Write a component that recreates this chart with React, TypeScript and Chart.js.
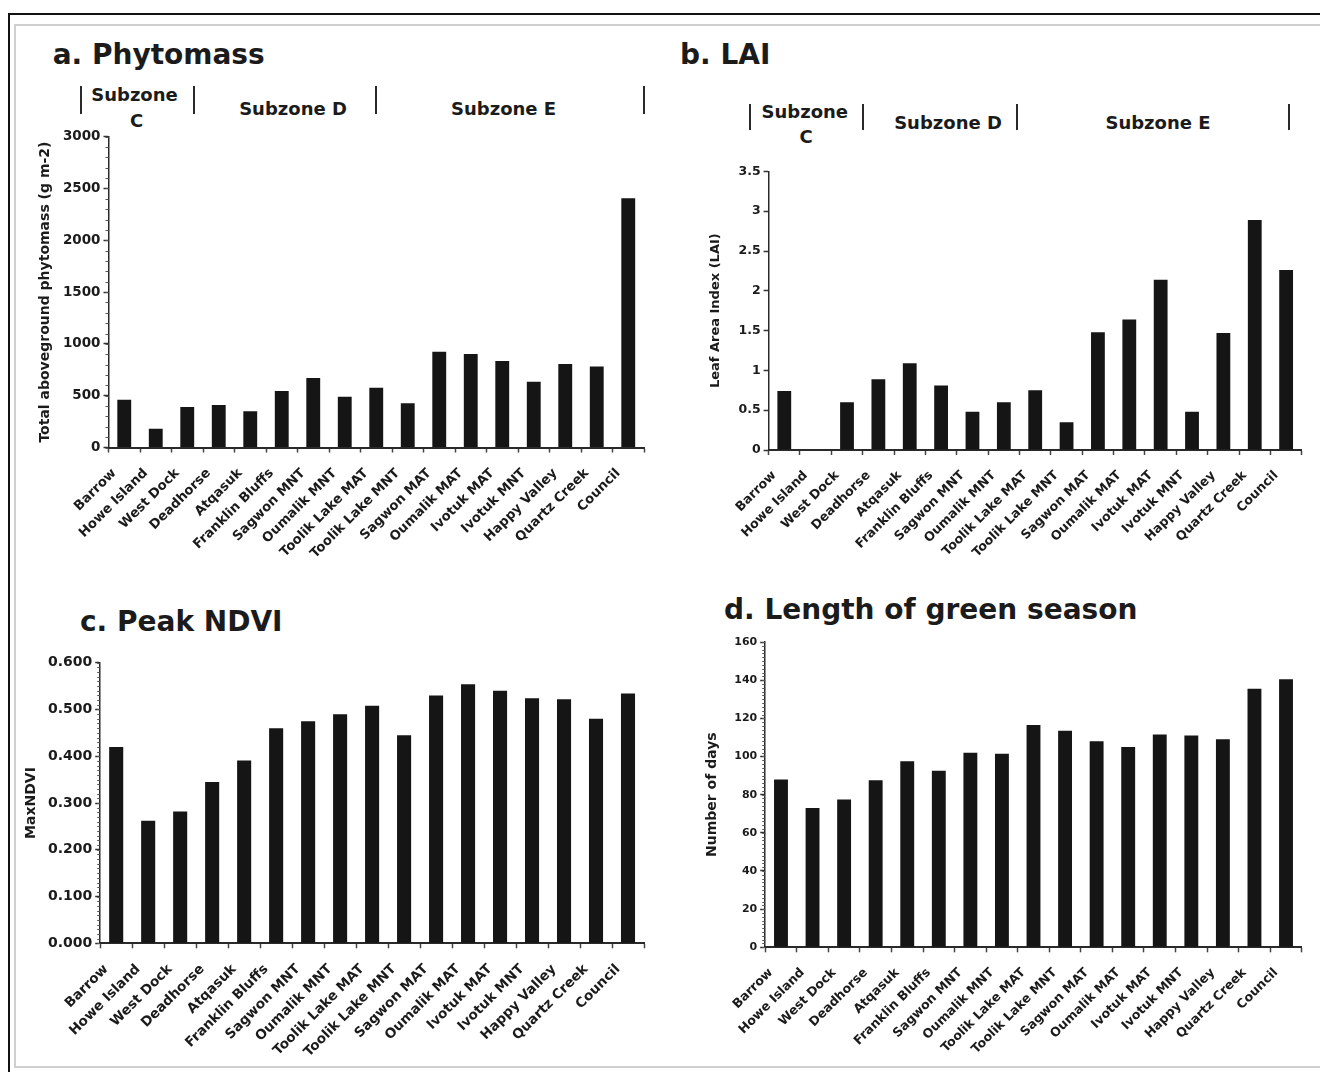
import React, { useEffect, useRef } from "react";
import { Chart, registerables } from "chart.js";

Chart.register(...registerables);

// ---------- data ----------
const sites: string[] = [
  "Barrow",
  "Howe Island",
  "West Dock",
  "Deadhorse",
  "Atqasuk",
  "Franklin Bluffs",
  "Sagwon MNT",
  "Oumalik MNT",
  "Toolik Lake MAT",
  "Toolik Lake MNT",
  "Sagwon MAT",
  "Oumalik MAT",
  "Ivotuk MAT",
  "Ivotuk MNT",
  "Happy Valley",
  "Quartz Creek",
  "Council",
];

const phytomass: number[] = [460, 180, 390, 410, 350, 545, 670, 490, 576, 428, 924, 903, 834, 634, 807, 783, 2407];
const lai: number[] = [0.74, 0, 0.6, 0.89, 1.09, 0.81, 0.48, 0.6, 0.75, 0.35, 1.48, 1.64, 2.14, 0.48, 1.47, 2.89, 2.26];
const peakNdvi: number[] = [0.42, 0.262, 0.282, 0.345, 0.391, 0.46, 0.475, 0.49, 0.508, 0.445, 0.53, 0.554, 0.54, 0.524, 0.522, 0.48, 0.534];
const greenDays: number[] = [88, 73, 77.5, 87.5, 97.5, 92.5, 102, 101.5, 116.5, 113.5, 108, 105, 111.5, 111, 109, 135.5, 140.5];

const titles: string[] = ["a. Phytomass", "b. LAI", "c. Peak NDVI", "d. Length of green season"];
const yTitles: string[] = ["Total aboveground phytomass (g m-2)", "Leaf Area Index (LAI)", "MaxNDVI", "Number of days"];
const subzoneLabels: string[] = ["Subzone", "C", "Subzone D", "Subzone E"];

// ---------- layout / style ----------
const FONT = "'DejaVu Sans', sans-serif";
const INK = "#1b1b1b";

type PanelSpec = {
  values: number[];
  yMax: number;
  yStep: number;
  fmt: (v: number) => string;
  yTitle: string;
  left: number;
  top: number;
  width: number;
  height: number;
  plotLeft: number;
  plotTop: number;
  plotRight: number;
  plotBottom: number;
  yTitleX: number;
  yTitleSize: number;
  tickSize: number;
  labelSize: number;
  minorStep: number;
};

const panels: PanelSpec[] = [
  {
    values: phytomass, yMax: 3000, yStep: 500, fmt: (v) => String(v), yTitle: yTitles[0],
    left: 20, top: 125, width: 640, height: 445,
    plotLeft: 108.5, plotTop: 136.7, plotRight: 644, plotBottom: 447.5,
    yTitleX: 45, yTitleSize: 14, tickSize: 13.5, labelSize: 13.2, minorStep: 100,
  },
  {
    values: lai, yMax: 3.5, yStep: 0.5, fmt: (v) => String(v), yTitle: yTitles[1],
    left: 680, top: 160, width: 640, height: 410,
    plotLeft: 768.6, plotTop: 171.4, plotRight: 1301.8, plotBottom: 450,
    yTitleX: 716, yTitleSize: 13, tickSize: 12.5, labelSize: 12.7, minorStep: 0,
  },
  {
    values: peakNdvi, yMax: 0.6, yStep: 0.1, fmt: (v) => v.toFixed(3), yTitle: yTitles[2],
    left: 20, top: 650, width: 640, height: 418,
    plotLeft: 100.2, plotTop: 662.7, plotRight: 644, plotBottom: 943.3,
    yTitleX: 31.6, yTitleSize: 14, tickSize: 14, labelSize: 13.6, minorStep: 0.01,
  },
  {
    values: greenDays, yMax: 160, yStep: 20, fmt: (v) => String(v), yTitle: yTitles[3],
    left: 680, top: 630, width: 640, height: 438,
    plotLeft: 765.2, plotTop: 642, plotRight: 1301.8, plotBottom: 947.3,
    yTitleX: 712.6, yTitleSize: 14, tickSize: 11, labelSize: 12.6, minorStep: 2,
  },
];

const minorTicks = {
  id: "minorTicks",
  afterDraw(chart: any, _args: any, opts: any) {
    const step = opts && opts.step;
    if (!step) return;
    const y = chart.scales.y;
    const ctx = chart.ctx;
    const n = Math.round(y.max / step);
    ctx.save();
    ctx.strokeStyle = "#555";
    ctx.lineWidth = 1;
    for (let i = 0; i <= n; i++) {
      const py = Math.round(y.getPixelForValue(i * step)) + 0.5;
      ctx.beginPath();
      ctx.moveTo(y.right - 3, py);
      ctx.lineTo(y.right, py);
      ctx.stroke();
    }
    ctx.restore();
  },
};

function Panel({ spec }: { spec: PanelSpec }) {
  const ref = useRef<HTMLCanvasElement | null>(null);
  useEffect(() => {
    if (!ref.current) return;
    const s = spec;
    const titleLine = s.yTitleSize * 1.2;
    const chart = new Chart(ref.current, {
      type: "bar",
      data: {
        labels: sites,
        datasets: [
          {
            data: s.values,
            backgroundColor: "#151515",
            borderWidth: 0,
            barPercentage: 0.44,
            categoryPercentage: 1,
          },
        ],
      },
      options: {
        animation: false,
        responsive: false,
        maintainAspectRatio: false,
        layout: {
          padding: {
            left: 0,
            top: s.plotTop - s.top,
            right: s.left + s.width - s.plotRight,
            bottom: 0,
          },
        },
        plugins: {
          legend: { display: false },
          tooltip: { enabled: false },
          title: { display: false },
          minorTicks: { step: s.minorStep },
        } as any,
        scales: {
          x: {
            offset: true,
            afterFit: (sc: any) => {
              sc.height = s.top + s.height - s.plotBottom;
            },
            border: { display: true, color: "#2a2a2a", width: 2 },
            grid: {
              display: true,
              drawOnChartArea: false,
              drawTicks: true,
              tickLength: 5,
              tickColor: "#444",
              tickWidth: 1.5,
              offset: true,
            },
            ticks: {
              autoSkip: false,
              minRotation: 45,
              maxRotation: 45,
              padding: 13,
              labelOffset: -10,
              color: INK,
              font: { family: FONT, size: s.labelSize, weight: "bold" },
            },
          },
          y: {
            min: 0,
            max: s.yMax,
            afterFit: (sc: any) => {
              sc.width = s.plotLeft - s.left;
            },
            border: { display: true, color: "#2a2a2a", width: 1.5 },
            grid: {
              display: true,
              drawOnChartArea: false,
              drawTicks: true,
              tickLength: 5,
              tickColor: "#333",
              tickWidth: 1.5,
            },
            ticks: {
              stepSize: s.yStep,
              padding: 3,
              color: INK,
              font: { family: FONT, size: s.tickSize, weight: "bold" },
              callback: (v: any) => s.fmt(Number(v)),
            },
            title: {
              display: true,
              text: s.yTitle,
              color: INK,
              padding: { top: s.yTitleX - s.left - titleLine / 2, bottom: 0 },
              font: { family: FONT, size: s.yTitleSize, weight: "bold", lineHeight: 1.2 },
            },
          },
        },
      } as any,
      plugins: [minorTicks as any],
    });
    return () => chart.destroy();
  }, [spec]);
  return (
    <canvas
      ref={ref}
      width={spec.width}
      height={spec.height}
      style={{ position: "absolute", left: spec.left, top: spec.top, width: spec.width, height: spec.height }}
    />
  );
}

// text helper: places text so that its baseline sits at y (DejaVu metrics, line-height 1)
function Txt({ text, x, baseline, size, align = "left" }: { text: string; x: number; baseline: number; size: number; align?: "left" | "center" }) {
  const top = baseline - 0.846 * size;
  const w = 400;
  const style: React.CSSProperties = {
    position: "absolute",
    top,
    left: align === "center" ? x - w / 2 : x,
    width: align === "center" ? w : undefined,
    textAlign: align,
    font: `bold ${size}px ${FONT}`,
    lineHeight: 1,
    color: INK,
    whiteSpace: "nowrap",
  };
  return <div style={style}>{text}</div>;
}

function Sep({ x, y1, y2 }: { x: number; y1: number; y2: number }) {
  return (
    <div
      style={{ position: "absolute", left: x - 1, top: y1, width: 2.2, height: y2 - y1, background: "#2a2a2a" }}
    />
  );
}

export default function App() {
  return (
    <div
      style={{
        position: "absolute",
        left: 0,
        top: 0,
        width: 1320,
        height: 1072,
        background: "#fff",
        overflow: "hidden",
      }}
    >
      {/* frame */}
      <div style={{ position: "absolute", left: 8, top: 13, width: 1330, height: 1070, borderTop: "2px solid #111", borderLeft: "2px solid #111" }} />
      <div style={{ position: "absolute", left: 14, top: 24, width: 1320, height: 1044, border: "2px solid #cfcfcf", boxSizing: "border-box" }} />

      {/* titles */}
      <Txt text={titles[0]} x={52.7} baseline={65} size={28} />
      <Txt text={titles[1]} x={680} baseline={64.3} size={28} />
      <Txt text={titles[2]} x={80} baseline={631.7} size={28} />
      <Txt text={titles[3]} x={724} baseline={619.3} size={28} />

      {/* subzones panel a */}
      <Sep x={81} y1={86} y2={114} />
      <Sep x={194} y1={86} y2={114} />
      <Sep x={376} y1={86} y2={114} />
      <Sep x={644} y1={86} y2={114} />
      <Txt text={subzoneLabels[0]} x={134.5} baseline={101} size={18} align="center" />
      <Txt text={subzoneLabels[1]} x={136.5} baseline={127} size={18} align="center" />
      <Txt text={subzoneLabels[2]} x={293} baseline={115} size={18} align="center" />
      <Txt text={subzoneLabels[3]} x={503.6} baseline={115} size={18} align="center" />

      {/* subzones panel b */}
      <Sep x={749.6} y1={103.6} y2={130} />
      <Sep x={862.9} y1={103.6} y2={130} />
      <Sep x={1017} y1={103.6} y2={130} />
      <Sep x={1289} y1={103.6} y2={130} />
      <Txt text={subzoneLabels[0]} x={804.8} baseline={117.9} size={18} align="center" />
      <Txt text={subzoneLabels[1]} x={806} baseline={142.9} size={18} align="center" />
      <Txt text={subzoneLabels[2]} x={948} baseline={129} size={18} align="center" />
      <Txt text={subzoneLabels[3]} x={1158} baseline={129} size={18} align="center" />

      {panels.map((p, i) => (
        <Panel key={i} spec={p} />
      ))}
    </div>
  );
}
